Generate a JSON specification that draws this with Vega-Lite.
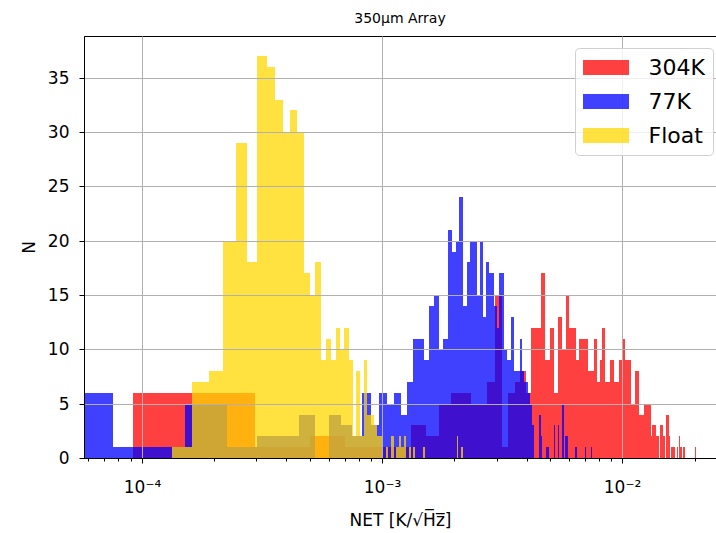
{
  "$schema": "https://vega.github.io/schema/vega-lite/v6.json",
  "width": 632,
  "height": 422,
  "autosize": {"type": "none"},
  "padding": {"left": 84, "top": 36, "right": 0, "bottom": 75},
  "background": "white",
  "title": {"text": "350μm Array", "fontSize": 14, "font": "DejaVu Sans", "fontWeight": "normal", "color": "black", "offset": 10},
  "config": {
    "font": "DejaVu Sans",
    "view": {"stroke": "black", "strokeWidth": 1}
  },
  "data": {
    "values": [
      {"s": "304K", "lo": 0.000092, "hi": 0.000296, "n": 6},
      {"s": "304K", "lo": 0.000296, "hi": 0.000500, "n": 1},
      {"s": "304K", "lo": 0.000500, "hi": 0.000704, "n": 2},
      {"s": "304K", "lo": 0.000704, "hi": 0.000908, "n": 1},
      {"s": "304K", "lo": 0.000908, "hi": 0.001112, "n": 1},
      {"s": "304K", "lo": 0.001112, "hi": 0.001316, "n": 1},
      {"s": "304K", "lo": 0.001316, "hi": 0.001520, "n": 3},
      {"s": "304K", "lo": 0.001520, "hi": 0.001724, "n": 2},
      {"s": "304K", "lo": 0.001724, "hi": 0.001928, "n": 5},
      {"s": "304K", "lo": 0.001928, "hi": 0.002132, "n": 6},
      {"s": "304K", "lo": 0.002132, "hi": 0.002336, "n": 6},
      {"s": "304K", "lo": 0.002336, "hi": 0.002540, "n": 5},
      {"s": "304K", "lo": 0.002540, "hi": 0.002744, "n": 5},
      {"s": "304K", "lo": 0.002744, "hi": 0.002948, "n": 7},
      {"s": "304K", "lo": 0.002948, "hi": 0.003152, "n": 15},
      {"s": "304K", "lo": 0.003152, "hi": 0.003356, "n": 1},
      {"s": "304K", "lo": 0.003356, "hi": 0.003560, "n": 6},
      {"s": "304K", "lo": 0.003560, "hi": 0.003764, "n": 7},
      {"s": "304K", "lo": 0.003764, "hi": 0.003968, "n": 8},
      {"s": "304K", "lo": 0.003968, "hi": 0.004172, "n": 6},
      {"s": "304K", "lo": 0.004172, "hi": 0.004376, "n": 12},
      {"s": "304K", "lo": 0.004376, "hi": 0.004580, "n": 12},
      {"s": "304K", "lo": 0.004580, "hi": 0.004784, "n": 17},
      {"s": "304K", "lo": 0.004784, "hi": 0.004988, "n": 9},
      {"s": "304K", "lo": 0.004988, "hi": 0.005192, "n": 12},
      {"s": "304K", "lo": 0.005192, "hi": 0.005396, "n": 6},
      {"s": "304K", "lo": 0.005396, "hi": 0.005600, "n": 13},
      {"s": "304K", "lo": 0.005600, "hi": 0.005804, "n": 10},
      {"s": "304K", "lo": 0.005804, "hi": 0.006008, "n": 15},
      {"s": "304K", "lo": 0.006008, "hi": 0.006212, "n": 12},
      {"s": "304K", "lo": 0.006212, "hi": 0.006416, "n": 12},
      {"s": "304K", "lo": 0.006416, "hi": 0.006620, "n": 9},
      {"s": "304K", "lo": 0.006620, "hi": 0.006824, "n": 11},
      {"s": "304K", "lo": 0.006824, "hi": 0.007028, "n": 11},
      {"s": "304K", "lo": 0.007028, "hi": 0.007232, "n": 11},
      {"s": "304K", "lo": 0.007232, "hi": 0.007436, "n": 8},
      {"s": "304K", "lo": 0.007436, "hi": 0.007640, "n": 8},
      {"s": "304K", "lo": 0.007640, "hi": 0.007844, "n": 11},
      {"s": "304K", "lo": 0.007844, "hi": 0.008048, "n": 7},
      {"s": "304K", "lo": 0.008048, "hi": 0.008252, "n": 9},
      {"s": "304K", "lo": 0.008252, "hi": 0.008456, "n": 12},
      {"s": "304K", "lo": 0.008456, "hi": 0.008660, "n": 7},
      {"s": "304K", "lo": 0.008660, "hi": 0.008864, "n": 7},
      {"s": "304K", "lo": 0.008864, "hi": 0.009068, "n": 9},
      {"s": "304K", "lo": 0.009068, "hi": 0.009272, "n": 9},
      {"s": "304K", "lo": 0.009272, "hi": 0.009476, "n": 7},
      {"s": "304K", "lo": 0.009476, "hi": 0.009680, "n": 7},
      {"s": "304K", "lo": 0.009680, "hi": 0.009884, "n": 9},
      {"s": "304K", "lo": 0.009884, "hi": 0.010088, "n": 9},
      {"s": "304K", "lo": 0.010088, "hi": 0.010292, "n": 11},
      {"s": "304K", "lo": 0.010292, "hi": 0.010496, "n": 9},
      {"s": "304K", "lo": 0.010496, "hi": 0.010700, "n": 9},
      {"s": "304K", "lo": 0.010700, "hi": 0.010904, "n": 9},
      {"s": "304K", "lo": 0.010904, "hi": 0.011108, "n": 5},
      {"s": "304K", "lo": 0.011108, "hi": 0.011312, "n": 5},
      {"s": "304K", "lo": 0.011312, "hi": 0.011516, "n": 8},
      {"s": "304K", "lo": 0.011516, "hi": 0.011720, "n": 8},
      {"s": "304K", "lo": 0.011720, "hi": 0.011924, "n": 4},
      {"s": "304K", "lo": 0.011924, "hi": 0.012128, "n": 4},
      {"s": "304K", "lo": 0.012128, "hi": 0.012332, "n": 4},
      {"s": "304K", "lo": 0.012332, "hi": 0.012536, "n": 5},
      {"s": "304K", "lo": 0.012536, "hi": 0.012740, "n": 5},
      {"s": "304K", "lo": 0.012740, "hi": 0.012944, "n": 5},
      {"s": "304K", "lo": 0.012944, "hi": 0.013148, "n": 5},
      {"s": "304K", "lo": 0.013148, "hi": 0.013352, "n": 2},
      {"s": "304K", "lo": 0.013352, "hi": 0.013556, "n": 3},
      {"s": "304K", "lo": 0.013556, "hi": 0.013760, "n": 3},
      {"s": "304K", "lo": 0.013760, "hi": 0.013964, "n": 2},
      {"s": "304K", "lo": 0.013964, "hi": 0.014168, "n": 2},
      {"s": "304K", "lo": 0.014372, "hi": 0.014576, "n": 3},
      {"s": "304K", "lo": 0.014576, "hi": 0.014780, "n": 3},
      {"s": "304K", "lo": 0.014780, "hi": 0.014984, "n": 2},
      {"s": "304K", "lo": 0.015188, "hi": 0.015392, "n": 4},
      {"s": "304K", "lo": 0.015392, "hi": 0.015596, "n": 4},
      {"s": "304K", "lo": 0.015596, "hi": 0.015800, "n": 2},
      {"s": "304K", "lo": 0.016004, "hi": 0.016208, "n": 1},
      {"s": "304K", "lo": 0.016208, "hi": 0.016412, "n": 1},
      {"s": "304K", "lo": 0.016412, "hi": 0.016616, "n": 1},
      {"s": "304K", "lo": 0.016820, "hi": 0.017024, "n": 1},
      {"s": "304K", "lo": 0.017228, "hi": 0.017432, "n": 2},
      {"s": "304K", "lo": 0.017432, "hi": 0.017636, "n": 1},
      {"s": "304K", "lo": 0.017840, "hi": 0.018044, "n": 1},
      {"s": "304K", "lo": 0.018044, "hi": 0.018248, "n": 1},
      {"s": "304K", "lo": 0.020084, "hi": 0.020288, "n": 1},

      {"s": "77K", "lo": 0.000001, "hi": 0.000076, "n": 6},
      {"s": "77K", "lo": 0.000076, "hi": 0.000151, "n": 1},
      {"s": "77K", "lo": 0.000151, "hi": 0.000226, "n": 5},
      {"s": "77K", "lo": 0.000226, "hi": 0.000301, "n": 1},
      {"s": "77K", "lo": 0.000301, "hi": 0.000376, "n": 2},
      {"s": "77K", "lo": 0.000376, "hi": 0.000451, "n": 2},
      {"s": "77K", "lo": 0.000451, "hi": 0.000526, "n": 4},
      {"s": "77K", "lo": 0.000601, "hi": 0.000676, "n": 4},
      {"s": "77K", "lo": 0.000676, "hi": 0.000751, "n": 3},
      {"s": "77K", "lo": 0.000751, "hi": 0.000826, "n": 2},
      {"s": "77K", "lo": 0.000826, "hi": 0.000901, "n": 6},
      {"s": "77K", "lo": 0.000901, "hi": 0.000976, "n": 3},
      {"s": "77K", "lo": 0.000976, "hi": 0.001051, "n": 6},
      {"s": "77K", "lo": 0.001051, "hi": 0.001126, "n": 5},
      {"s": "77K", "lo": 0.001126, "hi": 0.001201, "n": 6},
      {"s": "77K", "lo": 0.001201, "hi": 0.001276, "n": 4},
      {"s": "77K", "lo": 0.001276, "hi": 0.001351, "n": 7},
      {"s": "77K", "lo": 0.001351, "hi": 0.001426, "n": 11},
      {"s": "77K", "lo": 0.001426, "hi": 0.001501, "n": 11},
      {"s": "77K", "lo": 0.001501, "hi": 0.001576, "n": 9},
      {"s": "77K", "lo": 0.001576, "hi": 0.001651, "n": 14},
      {"s": "77K", "lo": 0.001651, "hi": 0.001726, "n": 15},
      {"s": "77K", "lo": 0.001726, "hi": 0.001801, "n": 10},
      {"s": "77K", "lo": 0.001801, "hi": 0.001876, "n": 11},
      {"s": "77K", "lo": 0.001876, "hi": 0.001951, "n": 21},
      {"s": "77K", "lo": 0.001951, "hi": 0.002026, "n": 19},
      {"s": "77K", "lo": 0.002026, "hi": 0.002101, "n": 20},
      {"s": "77K", "lo": 0.002101, "hi": 0.002176, "n": 24},
      {"s": "77K", "lo": 0.002176, "hi": 0.002251, "n": 14},
      {"s": "77K", "lo": 0.002251, "hi": 0.002326, "n": 18},
      {"s": "77K", "lo": 0.002326, "hi": 0.002401, "n": 20},
      {"s": "77K", "lo": 0.002401, "hi": 0.002476, "n": 20},
      {"s": "77K", "lo": 0.002476, "hi": 0.002551, "n": 15},
      {"s": "77K", "lo": 0.002551, "hi": 0.002626, "n": 20},
      {"s": "77K", "lo": 0.002626, "hi": 0.002701, "n": 13},
      {"s": "77K", "lo": 0.002701, "hi": 0.002776, "n": 18},
      {"s": "77K", "lo": 0.002776, "hi": 0.002851, "n": 17},
      {"s": "77K", "lo": 0.002851, "hi": 0.002926, "n": 17},
      {"s": "77K", "lo": 0.002926, "hi": 0.003001, "n": 14},
      {"s": "77K", "lo": 0.003001, "hi": 0.003076, "n": 12},
      {"s": "77K", "lo": 0.003076, "hi": 0.003151, "n": 17},
      {"s": "77K", "lo": 0.003151, "hi": 0.003226, "n": 17},
      {"s": "77K", "lo": 0.003226, "hi": 0.003301, "n": 10},
      {"s": "77K", "lo": 0.003301, "hi": 0.003376, "n": 9},
      {"s": "77K", "lo": 0.003376, "hi": 0.003451, "n": 9},
      {"s": "77K", "lo": 0.003451, "hi": 0.003526, "n": 13},
      {"s": "77K", "lo": 0.003526, "hi": 0.003601, "n": 8},
      {"s": "77K", "lo": 0.003601, "hi": 0.003676, "n": 8},
      {"s": "77K", "lo": 0.003676, "hi": 0.003751, "n": 8},
      {"s": "77K", "lo": 0.003751, "hi": 0.003826, "n": 11},
      {"s": "77K", "lo": 0.003826, "hi": 0.003901, "n": 8},
      {"s": "77K", "lo": 0.003901, "hi": 0.003976, "n": 7},
      {"s": "77K", "lo": 0.003976, "hi": 0.004051, "n": 7},
      {"s": "77K", "lo": 0.004051, "hi": 0.004126, "n": 6},
      {"s": "77K", "lo": 0.004126, "hi": 0.004201, "n": 5},
      {"s": "77K", "lo": 0.004201, "hi": 0.004276, "n": 3},
      {"s": "77K", "lo": 0.004501, "hi": 0.004576, "n": 4},
      {"s": "77K", "lo": 0.004576, "hi": 0.004651, "n": 2},
      {"s": "77K", "lo": 0.004801, "hi": 0.004876, "n": 1},
      {"s": "77K", "lo": 0.004876, "hi": 0.004951, "n": 1},
      {"s": "77K", "lo": 0.005176, "hi": 0.005251, "n": 3},
      {"s": "77K", "lo": 0.005401, "hi": 0.005476, "n": 3},
      {"s": "77K", "lo": 0.005626, "hi": 0.005701, "n": 5},
      {"s": "77K", "lo": 0.005776, "hi": 0.005851, "n": 2},
      {"s": "77K", "lo": 0.005851, "hi": 0.005926, "n": 2},
      {"s": "77K", "lo": 0.006376, "hi": 0.006451, "n": 1},
      {"s": "77K", "lo": 0.006976, "hi": 0.007051, "n": 1},
      {"s": "77K", "lo": 0.007426, "hi": 0.007501, "n": 1},

      {"s": "Float", "lo": 0.0001337, "hi": 0.0001619, "n": 1},
      {"s": "Float", "lo": 0.0001619, "hi": 0.0001901, "n": 7},
      {"s": "Float", "lo": 0.0001901, "hi": 0.0002183, "n": 8},
      {"s": "Float", "lo": 0.0002183, "hi": 0.0002465, "n": 20},
      {"s": "Float", "lo": 0.0002465, "hi": 0.0002747, "n": 29},
      {"s": "Float", "lo": 0.0002747, "hi": 0.0003029, "n": 18},
      {"s": "Float", "lo": 0.0003029, "hi": 0.0003311, "n": 37},
      {"s": "Float", "lo": 0.0003311, "hi": 0.0003593, "n": 36},
      {"s": "Float", "lo": 0.0003593, "hi": 0.0003875, "n": 33},
      {"s": "Float", "lo": 0.0003875, "hi": 0.0004157, "n": 30},
      {"s": "Float", "lo": 0.0004157, "hi": 0.0004439, "n": 32},
      {"s": "Float", "lo": 0.0004439, "hi": 0.0004721, "n": 30},
      {"s": "Float", "lo": 0.0004721, "hi": 0.0005003, "n": 17},
      {"s": "Float", "lo": 0.0005003, "hi": 0.0005285, "n": 15},
      {"s": "Float", "lo": 0.0005285, "hi": 0.0005567, "n": 18},
      {"s": "Float", "lo": 0.0005567, "hi": 0.0005849, "n": 9},
      {"s": "Float", "lo": 0.0005849, "hi": 0.0006131, "n": 11},
      {"s": "Float", "lo": 0.0006131, "hi": 0.0006413, "n": 9},
      {"s": "Float", "lo": 0.0006413, "hi": 0.0006695, "n": 12},
      {"s": "Float", "lo": 0.0006695, "hi": 0.0006977, "n": 10},
      {"s": "Float", "lo": 0.0006977, "hi": 0.0007259, "n": 12},
      {"s": "Float", "lo": 0.0007259, "hi": 0.0007541, "n": 9},
      {"s": "Float", "lo": 0.0007541, "hi": 0.0007823, "n": 2},
      {"s": "Float", "lo": 0.0007823, "hi": 0.0008105, "n": 8},
      {"s": "Float", "lo": 0.0008105, "hi": 0.0008387, "n": 2},
      {"s": "Float", "lo": 0.0008387, "hi": 0.0008669, "n": 9},
      {"s": "Float", "lo": 0.0008669, "hi": 0.0008951, "n": 4},
      {"s": "Float", "lo": 0.0008951, "hi": 0.0009233, "n": 4},
      {"s": "Float", "lo": 0.0009233, "hi": 0.0009515, "n": 3},
      {"s": "Float", "lo": 0.0009515, "hi": 0.0009797, "n": 2},
      {"s": "Float", "lo": 0.0009797, "hi": 0.0010079, "n": 2},
      {"s": "Float", "lo": 0.0010361, "hi": 0.0010643, "n": 1},
      {"s": "Float", "lo": 0.0010925, "hi": 0.0011207, "n": 2},
      {"s": "Float", "lo": 0.0011489, "hi": 0.0011771, "n": 1},
      {"s": "Float", "lo": 0.0011771, "hi": 0.0012053, "n": 2},
      {"s": "Float", "lo": 0.0012053, "hi": 0.0012335, "n": 1},
      {"s": "Float", "lo": 0.0012335, "hi": 0.0012617, "n": 2},
      {"s": "Float", "lo": 0.0012899, "hi": 0.0013181, "n": 1},
      {"s": "Float", "lo": 0.0013463, "hi": 0.0013745, "n": 1},
      {"s": "Float", "lo": 0.0014873, "hi": 0.0015155, "n": 1},
      {"s": "Float", "lo": 0.0020513, "hi": 0.0020795, "n": 2},
      {"s": "Float", "lo": 0.0021359, "hi": 0.0021641, "n": 1}
    ]
  },
  "mark": {"type": "bar", "opacity": 0.75, "clip": true},
  "encoding": {
    "x": {
      "field": "lo",
      "type": "quantitative",
      "title": "NET [K/√H̅z̅]",
      "scale": {"type": "log", "domain": [0.00005754, 0.02454], "nice": false, "round": true},
      "axis": {
        "values": [0.00006, 0.00007, 0.00008, 0.00009, 0.0001, 0.0002, 0.0003, 0.0004, 0.0005, 0.0006, 0.0007, 0.0008, 0.0009, 0.001, 0.002, 0.003, 0.004, 0.005, 0.006, 0.007, 0.008, 0.009, 0.01, 0.02],
        "labelExpr": "datum.value == 0.0001 ? '10⁻⁴' : datum.value == 0.001 ? '10⁻³' : datum.value == 0.01 ? '10⁻²' : ''",
        "labelOverlap": false,
        "labelFlush": false,
        "labelFontSize": 17,
        "labelColor": "black",
        "labelPadding": 16,
        "tickSize": {"condition": {"test": "datum.value == 0.0001 || datum.value == 0.001 || datum.value == 0.01", "value": 5}, "value": 3},
        "tickColor": "black",
        "gridColor": "#b0b0b0",
        "gridWidth": 1,
        "gridOpacity": {"condition": {"test": "datum.value == 0.0001 || datum.value == 0.001 || datum.value == 0.01", "value": 1}, "value": 0},
        "domainColor": "black",
        "titleFontSize": 17,
        "titleFontWeight": "normal",
        "titleColor": "black",
        "titlePadding": 17,
        "zindex": 1
      }
    },
    "x2": {"field": "hi"},
    "y": {
      "field": "n",
      "type": "quantitative",
      "stack": null,
      "title": "N",
      "scale": {"domain": [0, 38.85], "nice": false, "round": true},
      "axis": {
        "values": [0, 5, 10, 15, 20, 25, 30, 35],
        "labelFontSize": 17,
        "labelColor": "black",
        "labelPadding": 10,
        "tickSize": 5,
        "tickColor": "black",
        "gridColor": "#b0b0b0",
        "gridWidth": 1,
        "domainColor": "black",
        "titleFontSize": 17,
        "titleFontWeight": "normal",
        "titleColor": "black",
        "titlePadding": 9,
        "zindex": 1
      }
    },
    "y2": {"datum": 0},
    "color": {
      "field": "s",
      "type": "nominal",
      "scale": {"domain": ["304K", "77K", "Float"], "range": ["#ff0000", "#0000ff", "#ffd700"]},
      "legend": {
        "orient": "none",
        "legendX": 491,
        "legendY": 12,
        "title": null,
        "symbolType": "M-2,-0.65L2,-0.65L2,0.65L-2,0.65Z",
        "symbolSize": 529,
        "symbolOffset": 11.5,
        "symbolOpacity": 0.75,
        "symbolStrokeWidth": 0,
        "labelFontSize": 22,
        "labelColor": "black",
        "labelOffset": 31,
        "rowPadding": 11,
        "padding": 8,
        "strokeColor": "#d0d0d0",
        "fillColor": "rgba(255,255,255,0.8)",
        "cornerRadius": 4,
        "zindex": 2
      }
    }
  }
}
